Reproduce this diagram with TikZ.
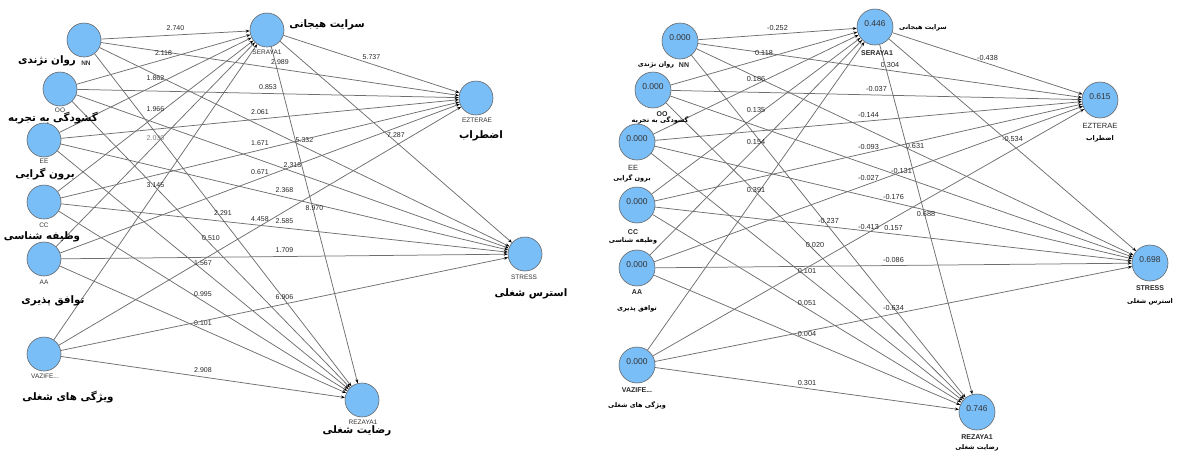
\documentclass[tikz,border=0pt]{standalone}
\usepackage{fontspec}
\setmainfont{Liberation Sans}
\newfontfamily\fa[Script=Arabic]{DejaVu Sans}
\TeXXeTstate=1
\usetikzlibrary{arrows.meta}
\definecolor{lvblue}{RGB}{122,190,248}
\definecolor{edgegray}{RGB}{110,110,110}
\begin{document}
\begin{tikzpicture}[x=1pt,y=-1pt,
  lv/.style={circle,draw=black!60,fill=lvblue,line width=0.6pt,minimum size=34pt,inner sep=0pt},
  rlv/.style={lv,minimum size=36pt},
  pathedge/.style={draw=edgegray,line width=0.75pt,-{Stealth[length=4pt,width=3pt,black]}},
  coef/.style={font=\fontsize{7}{8}\selectfont,yshift=6.5pt,inner sep=0pt,text=black!85},
  rcoef/.style={font=\fontsize{7.3}{8}\selectfont,yshift=6pt,inner sep=0pt,text=black!85},
  lname/.style={font=\fontsize{6.5}{7}\selectfont,inner sep=0pt,text=black!80},
  rname/.style={font=\bfseries\fontsize{7}{8}\selectfont,inner sep=0pt,text=black!85},
  lfa/.style={font=\fa\bfseries\fontsize{10.3}{12}\selectfont,inner sep=0pt},
  rfa/.style={font=\fa\bfseries\fontsize{6.5}{7}\selectfont,inner sep=0pt},
  val/.style={font=\fontsize{8.5}{9}\selectfont,inner sep=0pt,text=black!80}
]
\useasboundingbox (0,0) rectangle (1184,451);

% ---------- left panel nodes ----------
\node[lv] (lNN) at (84,40) {};
\node[lv] (lOO) at (60,89) {};
\node[lv] (lEE) at (44,140) {};
\node[lv] (lCC) at (44,202) {};
\node[lv] (lAA) at (44,259) {};
\node[lv] (lVA) at (44,354) {};
\node[lv] (lSE) at (267,30) {};
\node[lv] (lEZ) at (476,98) {};
\node[lv] (lST) at (525,254) {};
\node[lv] (lRE) at (362,400) {};

% ---------- right panel nodes ----------
\node[rlv] (rNN) at (680,41) {};
\node[rlv] (rOO) at (653,90) {};
\node[rlv] (rEE) at (637,142) {};
\node[rlv] (rCC) at (637,205) {};
\node[rlv] (rAA) at (637,268) {};
\node[rlv] (rVA) at (637,365) {};
\node[rlv] (rSE) at (875,27) {};
\node[rlv] (rEZ) at (1100,100) {};
\node[rlv] (rST) at (1150,263) {};
\node[rlv] (rRE) at (977,412) {};

% ---------- left panel edges ----------
\foreach \s/\t/\v in {
  NN/SE/2.740, NN/EZ/2.989, NN/ST/5.332, NN/RE/2.291,
  OO/SE/2.118, OO/EZ/0.853, OO/ST/2.318, OO/RE/0.510,
  EE/SE/1.862, EE/EZ/2.061, EE/ST/2.368, EE/RE/1.567,
  CC/SE/1.966, CC/EZ/1.671, CC/ST/2.585, CC/RE/0.995,
  AA/EZ/0.671, AA/ST/1.709, AA/RE/0.101,
  VA/SE/3.145, VA/EZ/4.458, VA/ST/6.906, VA/RE/2.908,
  SE/EZ/5.737, SE/ST/7.287, SE/RE/8.970}
  \draw[pathedge] (l\s) -- node[coef]{\v} (l\t);
\draw[pathedge] (lAA) -- node[coef,text=black!50]{2.030} (lSE);

% ---------- right panel edges ----------
\foreach \s/\t/\v in {
  NN/SE/-0.252, NN/EZ/0.304, NN/ST/0.631, NN/RE/-0.237,
  OO/SE/0.118, OO/EZ/-0.037, OO/ST/-0.131, OO/RE/0.020,
  EE/SE/0.186, EE/EZ/-0.144, EE/ST/-0.176, EE/RE/0.101,
  CC/SE/0.135, CC/EZ/-0.093, CC/ST/0.157, CC/RE/0.051,
  AA/SE/0.154, AA/EZ/-0.027, AA/ST/-0.086, AA/RE/0.004,
  VA/SE/0.391, VA/EZ/-0.413, VA/ST/-0.634, VA/RE/0.301,
  SE/EZ/-0.438, SE/ST/-0.534, SE/RE/0.688}
  \draw[pathedge] (r\s) -- node[rcoef]{\v} (r\t);

% ---------- left panel texts ----------
\node[lname,font=\bfseries\fontsize{6.5}{7}\selectfont] (lNNn) at (86,63) {NN};
\node[lfa] (lNNf) at (47,61) {\beginR روان نژندی\endR};
\node[lname] (lOOn) at (60,110) {OO};
\node[lfa] (lOOf) at (53,118) {\beginR گشودگی به تجربه\endR};
\node[lname] (lEEn) at (44,161) {EE};
\node[lfa] (lEEf) at (45,174) {\beginR برون گرایی\endR};
\node[lname] (lCCn) at (44,225) {CC};
\node[lfa] (lCCf) at (42,237) {\beginR وظیفه شناسی\endR};
\node[lname] (lAAn) at (44,282) {AA};
\node[lfa] (lAAf) at (53,301) {\beginR توافق پذیری\endR};
\node[lname] (lVAn) at (45,376) {VAZIFE...};
\node[lfa] (lVAf) at (68,397) {\beginR ویژگی های شغلی\endR};
\node[lname] (lSEn) at (267,52) {SERAYA1};
\node[lfa] (lSEf) at (327,25) {\beginR سرایت هیجانی\endR};
\node[lname] (lEZn) at (477,120) {EZTERAE};
\node[lfa] (lEZf) at (481,136) {\beginR اضطراب\endR};
\node[lname] (lSTn) at (524,277) {STRESS};
\node[lfa] (lSTf) at (531,294) {\beginR استرس شغلی\endR};
\node[lname] (lREn) at (363,422) {REZAYA1};
\node[lfa] (lREf) at (357,431) {\beginR رضایت شغلی\endR};

% ---------- right panel texts ----------
\foreach \n in {NN,OO,EE,CC,AA,VA}
  \node[val] at ([yshift=3pt]r\n.center) {0.000};
\node[val] at ([yshift=3pt]rSE.center) {0.446};
\node[val] at ([yshift=3pt]rEZ.center) {0.615};
\node[val] at ([yshift=3pt]rST.center) {0.698};
\node[val] at ([yshift=3pt]rRE.center) {0.746};

\node[rname] (rNNn) at (684,65) {NN};
\node[rfa] (rNNf) at (656,65) {\beginR روان نژندی\endR};
\node[rname] (rOOn) at (662,114) {OO};
\node[rfa] (rOOf) at (660,120) {\beginR گشودگی به تجربه\endR};
\node[rname,font=\fontsize{7.5}{8}\selectfont] (rEEn) at (633,168) {EE};
\node[rfa] (rEEf) at (632,178) {\beginR برون گرایی\endR};
\node[rname] (rCCn) at (633,232) {CC};
\node[rfa] (rCCf) at (633,241) {\beginR وظیفه شناسی\endR};
\node[rname] (rAAn) at (637,292) {AA};
\node[rfa] (rAAf) at (637,309) {\beginR توافق پذیری\endR};
\node[rname] (rVAn) at (637,390) {VAZIFE...};
\node[rfa] (rVAf) at (637,405) {\beginR ویژگی های شغلی\endR};
\node[rname] (rSEn) at (877,53) {SERAYA1};
\node[rfa] (rSEf) at (923,28) {\beginR سرایت هیجانی\endR};
\node[rname,font=\fontsize{7.5}{8}\selectfont] (rEZn) at (1100,126) {EZTERAE};
\node[rfa] (rEZf) at (1100,139) {\beginR اضطراب\endR};
\node[rname] (rSTn) at (1150,288) {STRESS};
\node[rfa] (rSTf) at (1150,302) {\beginR استرس شغلی\endR};
\node[rname] (rREn) at (977,437) {REZAYA1};
\node[rfa] (rREf) at (977,448) {\beginR رضایت شغلی\endR};
\end{tikzpicture}
\end{document}
